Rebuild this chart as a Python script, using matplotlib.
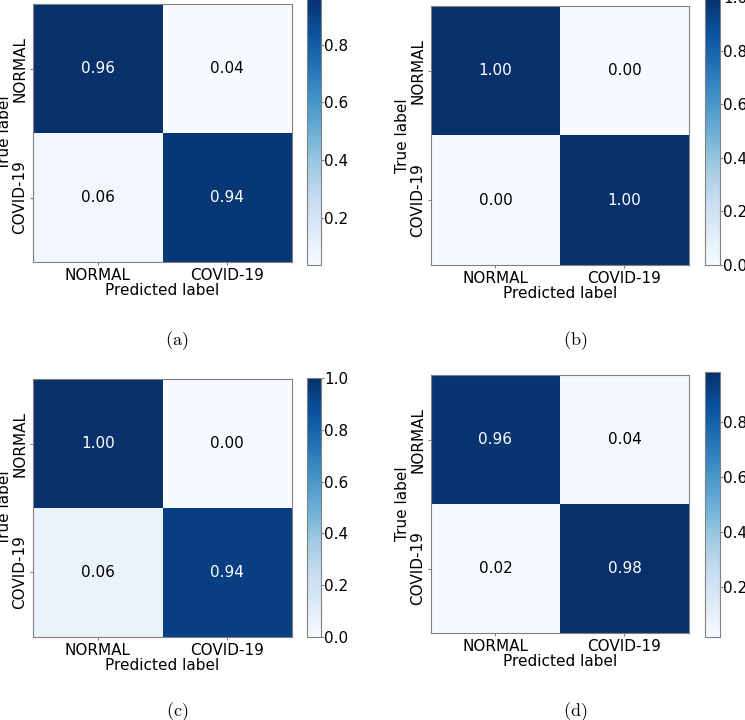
import numpy as np
import matplotlib
matplotlib.use("Agg")
import matplotlib.pyplot as plt

plt.rcParams["mathtext.fontset"] = "cm"

# クラスラベル
classes = ["NORMAL", "COVID-19"]

# 正規化済みの混同行列 (a)〜(d)
cm_a = [[0.964, 0.036], [0.0625, 0.9375]]
cm_b = [[1.0, 0.0], [0.0, 1.0]]
cm_c = [[1.0, 0.0], [0.0625, 0.9375]]
cm_d = [[0.96, 0.04], [0.02, 0.98]]
captions = ["(a)", "(b)", "(c)", "(d)"]

FS = 11
GRAY = "#808080"

fig = plt.figure(figsize=(7.45, 7.2), dpi=100)

# 各パネルの位置 [axes, colorbar, caption]
layout = [
    ([0.0443, 0.6361, 0.3477, 0.3583], [0.4121, 0.6319, 0.0188, 0.372], (177, 341)),
    ([0.5785, 0.6319, 0.3463, 0.3597], [0.9463, 0.6319, 0.0200, 0.372], (575, 341)),
    ([0.0443, 0.1153, 0.3477, 0.3583], [0.4121, 0.1153, 0.0188, 0.3597], (177, 712)),
    ([0.5785, 0.1208, 0.3463, 0.3583], [0.9463, 0.1153, 0.0200, 0.368], (575, 712)),
]


def plot_cm(ax, cax, cm):
    cm = np.array(cm)
    im = ax.imshow(cm, interpolation="nearest", cmap=plt.cm.Blues, aspect="auto")
    cb = fig.colorbar(im, cax=cax)
    cb.outline.set_edgecolor(GRAY)
    cb.ax.tick_params(labelsize=FS, color=GRAY, length=2, width=0.8, pad=0.5)

    ax.set_xticks(range(len(classes)))
    ax.set_xticklabels(classes, fontsize=FS)
    ax.set_yticks(range(len(classes)))
    ax.set_yticklabels(classes, fontsize=FS, rotation=90, va="center")
    ax.tick_params(color=GRAY, length=2, width=0.8, pad=2)
    for sp in ax.spines.values():
        sp.set_edgecolor(GRAY)
    ax.set_xlabel("Predicted label", fontsize=FS, labelpad=0)
    ax.set_ylabel("True label", fontsize=FS, labelpad=0)

    # 値を描画
    thresh = cm.max() / 2.0
    for i in range(cm.shape[0]):
        for j in range(cm.shape[1]):
            ax.text(j, i, format(cm[i, j], ".2f"), ha="center", va="center",
                    fontsize=FS, color="white" if cm[i, j] > thresh else "black")


for cm, cap, (ax_pos, cb_pos, (cx, cy)) in zip([cm_a, cm_b, cm_c, cm_d], captions, layout):
    ax = fig.add_axes(ax_pos)
    cax = fig.add_axes(cb_pos)
    plot_cm(ax, cax, cm)
    fig.text(cx / 745, 1 - cy / 720, r"$\mathrm{" + cap + "}$", ha="center", va="center", fontsize=13)

fig.savefig("out.png", dpi=100)
